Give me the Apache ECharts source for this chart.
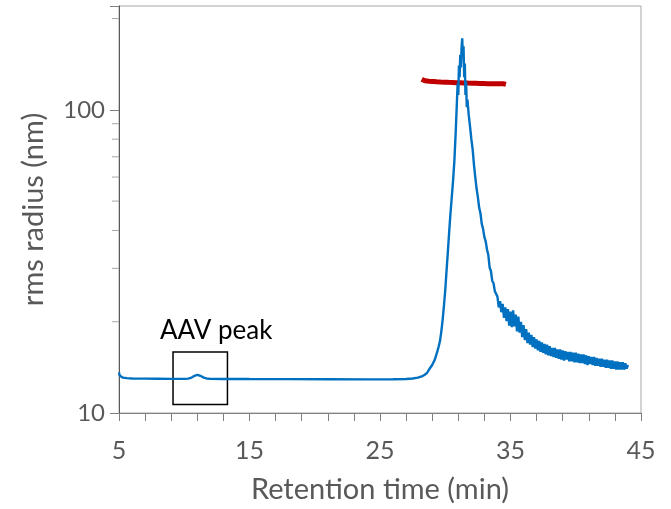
<!DOCTYPE html>
<html>
<head>
<meta charset="utf-8">
<script src="https://cdn.jsdelivr.net/npm/echarts@6/dist/echarts.min.js"></script>
<style>html,body{margin:0;padding:0;background:#fff}#c{width:671px;height:509px}</style>
</head>
<body>
<div id="c"></div>
<script>
// ---- data ----
const xTicks = [5, 15, 25, 35, 45];
const yLabels = [10, 100];
const yMinorTicks = [20, 30, 40, 50, 60, 70, 80, 90, 200];
const xTitle = 'Retention time (min)';
const yTitle = 'rms radius (nm)';
const boxLabel = 'AAV peak';
const aavBox = [[9.14, 15.9], [13.31, 10.66]];

// rms radius (red)
const rmsRadius = [
  [28.2,126.2],[28.3,125.0],[28.45,124.6],[28.6,123.6],[28.75,124.2],[28.9,123.4],[29.05,124.0],[29.2,123.1],
  [29.35,123.7],[29.5,122.9],[29.65,123.5],[29.8,122.7],[29.95,123.4],[30.1,122.6],[30.25,123.2],[30.4,122.4],
  [30.55,123.1],[30.7,122.2],[30.85,122.9],[31.0,122.1],[31.15,122.8],[31.3,121.9],[31.45,122.7],[31.6,121.8],
  [31.75,122.5],[31.9,121.7],[32.05,122.4],[32.2,121.6],[32.35,122.3],[32.5,121.5],[32.65,122.2],[32.8,121.4],
  [32.95,122.1],[33.1,121.3],[33.25,122.0],[33.4,121.2],[33.55,122.0],[33.7,121.1],[33.85,121.9],[34.0,121.0],
  [34.15,121.8],[34.3,121.1],[34.45,121.9],[34.65,121.3]
];

// detector trace (blue)
const trace = [
  [5.0,13.6],[5.05,13.3],[5.15,13.15],[5.3,13.08],[5.6,13.03],[6.0,13.0],[7.0,12.98],[8.0,12.97],[9.0,12.96],
  [10.0,12.96],[10.3,12.98],[10.5,13.05],[10.7,13.2],[10.85,13.32],[11.0,13.37],[11.15,13.33],[11.3,13.22],
  [11.5,13.08],[11.7,13.0],[12.0,12.96],[13.0,12.95],[15.0,12.94],[18.0,12.93],[21.0,12.92],[24.0,12.91],
  [26.0,12.92],[27.0,12.95],[27.5,13.0],[27.9,13.08],[28.2,13.2],[28.4,13.35],[28.5,13.3],[28.6,13.55],
  [28.7,13.75],[28.8,14.0],[28.9,14.2],[29.0,14.4],[29.1,14.7],[29.2,15.0],[29.3,15.5],[29.4,16.0],[29.5,16.6],
  [29.6,17.3],[29.7,18.6],[29.8,20.3],[29.9,22.6],[30.0,25.4],[30.1,29.5],[30.2,34.0],[30.3,39.5],[30.4,45.5],
  [30.5,51.5],[30.6,58.5],[30.7,68],[30.8,84],[30.9,108],[30.95,122],[31.0,112],[31.05,140],[31.1,128],
  [31.15,152],[31.2,138],[31.25,160],[31.3,172],[31.35,150],[31.4,162],[31.45,128],[31.5,142],[31.55,112],
  [31.6,124],[31.65,102],[31.7,108],[31.8,96],[31.9,88],[32.0,80],[32.1,74],[32.2,66],[32.3,60],[32.4,55],
  [32.5,51.5],[32.6,47.5],[32.7,45.5],[32.8,42],[32.9,40.5],[33.0,38],[33.1,36.8],[33.2,34.6],[33.3,33.2],
  [33.4,30.2],[33.5,29.4],[33.6,27.3],[33.7,26.8],[33.8,25.2],[33.9,24.9],
  [34.0,24.2],[34.1,22.3],[34.2,23.4],[34.3,21.5],[34.4,22.9],[34.5,20.6],[34.6,22.3],[34.7,20.1],[34.8,22.0],
  [34.9,19.4],[35.0,21.6],[35.1,19.2],[35.2,21.8],[35.3,19.3],[35.4,21.1],[35.5,18.6],[35.6,20.8],[35.7,18.4],
  [35.8,20.0],[35.9,17.8],[36.0,19.5],[36.1,17.4],[36.2,18.9],[36.3,17.0],[36.4,18.4],[36.5,16.8],[36.6,18.1],
  [36.7,16.5],[36.8,17.8],[36.9,16.3],[37.0,17.5],[37.1,16.1],[37.2,17.3],[37.3,15.9],[37.4,17.1],[37.5,15.8],
  [37.6,16.9],[37.7,15.6],[37.8,16.8],[37.9,15.5],[38.0,16.6],[38.1,15.4],[38.2,16.4],[38.3,15.3],[38.4,16.4],
  [38.5,15.2],[38.6,16.2],[38.7,15.1],[38.8,16.2],[38.9,15.0],[39.0,16.1],[39.1,14.9],[39.2,16.0],[39.3,15.0],
  [39.4,15.9],[39.5,14.8],[39.6,15.9],[39.7,14.8],[39.8,15.8],[39.9,14.7],[40.0,15.8],[40.1,14.7],[40.2,15.7],
  [40.3,14.6],[40.4,15.6],[40.5,14.6],[40.6,15.6],[40.7,14.5],[40.8,15.5],[40.9,14.4],[41.0,15.4],[41.1,14.5],
  [41.2,15.3],[41.3,14.4],[41.4,15.3],[41.5,14.3],[41.6,15.2],[41.7,14.3],[41.8,15.1],[41.9,14.2],[42.0,15.1],
  [42.1,14.2],[42.2,15.0],[42.3,14.1],[42.4,15.0],[42.5,14.1],[42.6,14.9],[42.7,14.0],[42.8,14.9],[42.9,14.0],
  [43.0,14.8],[43.1,13.9],[43.2,14.8],[43.3,13.9],[43.4,14.7],[43.5,13.9],[43.6,14.7],[43.7,13.9],[43.8,14.6],
  [43.9,14.0],[44.0,14.4]
];

const FONT = 'Lato';
const GRAY = '#595959';
const chart = echarts.init(document.getElementById('c'), null, {renderer: 'canvas'});
chart.setOption({
  animation: false,
  backgroundColor: '#fff',
  grid: {left: 119, right: 30, top: 6, bottom: 95, show: true, borderColor: '#A6A6A6', borderWidth: 1},
  xAxis: {
    type: 'value', min: 5, max: 45, interval: 10,
    name: xTitle, nameLocation: 'middle', nameGap: 62,
    nameTextStyle: {fontFamily: FONT, fontSize: 29, color: GRAY},
    axisLine: {show: true, lineStyle: {color: '#7F7F7F', width: 1}},
    axisTick: {show: true, inside: false, length: 8, lineStyle: {color: '#7F7F7F'}},
    minorTick: {show: true, splitNumber: 5, length: 8, lineStyle: {color: '#7F7F7F'}},
    splitLine: {show: false},
    axisLabel: {fontFamily: FONT, fontSize: 25, color: GRAY, margin: 25,
      formatter: v => xTicks.indexOf(v) >= 0 ? String(v) : ''}
  },
  yAxis: {
    type: 'log', logBase: 10, min: 10, max: 220,
    name: yTitle, nameLocation: 'middle', nameGap: 71,
    nameTextStyle: {fontFamily: FONT, fontSize: 29, color: GRAY},
    axisLine: {show: true, lineStyle: {color: GRAY, width: 1}},
    axisTick: {show: true, inside: false, length: 9, lineStyle: {color: '#7F7F7F'}},
    splitLine: {show: false},
    axisLabel: {fontFamily: FONT, fontSize: 24, color: GRAY, margin: 14,
      formatter: v => yLabels.indexOf(Math.round(v)) >= 0 ? String(Math.round(v)) : ''}
  },
  series: [
    {
      type: 'custom', silent: true, clip: false, z: 5,
      data: yMinorTicks.map(v => [5, v]),
      renderItem: (params, api) => {
        const p = api.coord([api.value(0), api.value(1)]);
        return {type: 'line', shape: {x1: p[0] - 7, y1: p[1], x2: p[0], y2: p[1]},
          style: {stroke: '#A6A6A6', lineWidth: 1}};
      }
    },
    {
      name: 'rms radius', type: 'line', data: rmsRadius, showSymbol: false, smooth: false,
      lineStyle: {color: '#C00000', width: 5}, z: 2
    },
    {
      name: 'trace', type: 'line', data: trace, showSymbol: false, smooth: false,
      lineStyle: {color: '#0070C0', width: 2.4}, z: 3,
      markArea: {
        silent: true,
        itemStyle: {color: 'rgba(0,0,0,0)', borderColor: '#000', borderWidth: 1.5},
        label: {show: true, position: 'top', distance: 8, offset: [16, 0],
          fontFamily: FONT, fontSize: 26, color: '#000'},
        data: [[{name: boxLabel, coord: aavBox[0]}, {coord: aavBox[1]}]]
      }
    }
  ]
});
</script>
</body>
</html>
